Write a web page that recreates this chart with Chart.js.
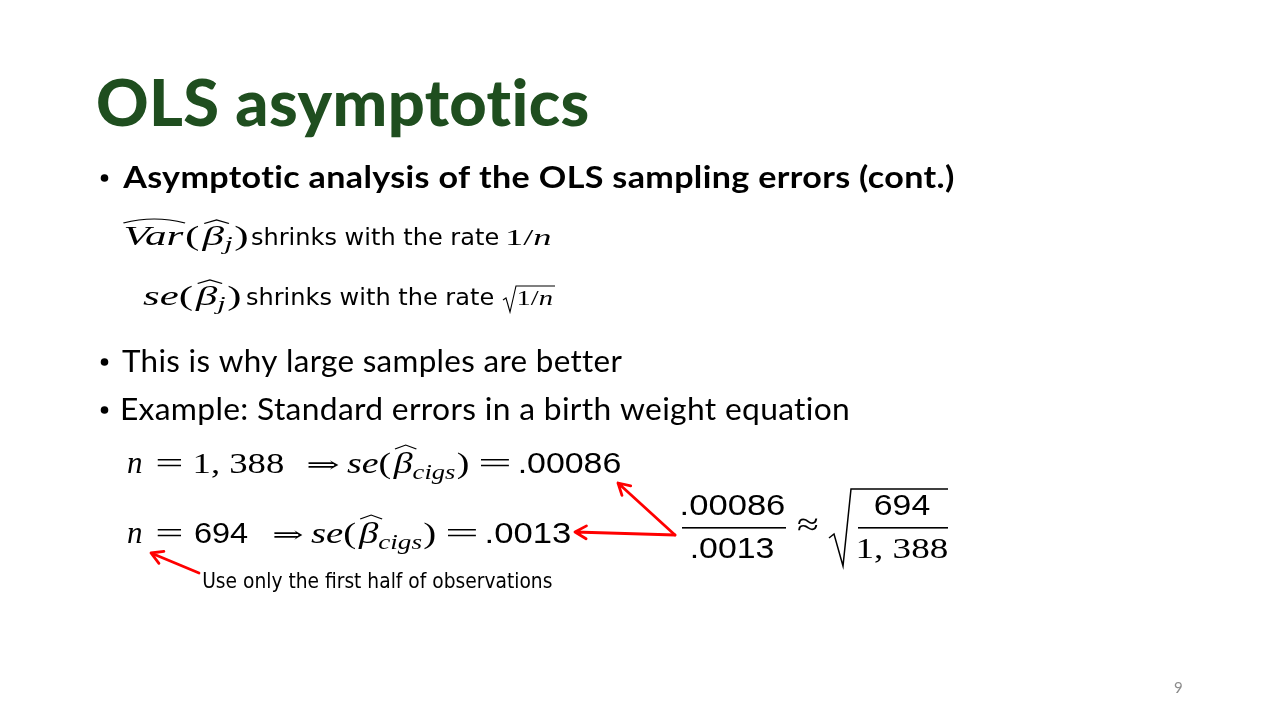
<!DOCTYPE html>
<html>
<head>
<meta charset="utf-8">
<title>OLS asymptotics</title>
<script src="https://cdn.jsdelivr.net/npm/chart.js@4.4.1/dist/chart.umd.min.js"></script>
<style>
  html, body { margin: 0; padding: 0; background: #fff; }
  #wrap { width: 1280px; height: 720px; position: relative; }
</style>
</head>
<body>
<div id="wrap"><canvas id="slide" width="1280" height="720"></canvas></div>
<script>
// ---- slide content ----
var titleText = 'OLS asymptotics';
var bulletTexts = [
  'Asymptotic analysis of the OLS sampling errors (cont.)',
  'This is why large samples are better',
  'Example: Standard errors in a birth weight equation'
];
var rateText = 'shrinks with the rate';
var noteText = 'Use only the first half of observations';
var pageNumber = '9';

// birth weight example: full sample and first half
var sampleSizes = [1388, 694];
var seCigs = [0.00086, 0.0013];
var coefName = 'cigs';

// ---- layout (slide pixels) ----
var titleColor = '#1f4e1f';
var arrowLayout = [
  { from: [675, 535], to: [618, 483] },
  { from: [675, 535], to: [575, 532] },
  { from: [199, 573], to: [151, 553] }
];

function IT(s) { return 'italic ' + s + 'px "Liberation Serif"'; }
function RM(s) { return s + 'px "Liberation Serif"'; }
function SF(s) { return s + 'px "Liberation Sans"'; }

// 1388 -> "1, 388" (tex style), 694 -> "694"
function fmtN(n) {
  var s = String(n);
  if (s.length > 3) s = s.slice(0, s.length - 3) + ', ' + s.slice(s.length - 3);
  return s;
}
// 0.00086 -> ".00086"
function fmtSe(v) {
  return String(v).replace(/^0/, '');
}

// draw a list of runs starting at x on a baseline, stretched to fit width w
function drawSeg(ctx, runs, x, base, w) {
  var total = 0, first = null, last = null;
  runs.forEach(function(r, i) {
    ctx.font = r.f;
    ctx.letterSpacing = r.ls || '0px';
    var m = ctx.measureText(r.t);
    r._w = m.width;
    if (i === 0) first = m.actualBoundingBoxLeft;
    if (i === runs.length - 1) last = m.actualBoundingBoxRight;
    total += (i === runs.length - 1 ? 0 : m.width + (r.gap || 0));
  });
  var vis = first + total + last;
  var k = w ? w / vis : 1;
  ctx.save();
  ctx.translate(x, base);
  ctx.scale(k, 1);
  var cx = first;
  runs.forEach(function(r) {
    ctx.font = r.f;
    ctx.letterSpacing = r.ls || '0px';
    ctx.fillStyle = r.c || '#000';
    ctx.fillText(r.t, cx, r.dy || 0);
    if (r.hat) {
      var h = r.hat;
      ctx.beginPath();
      ctx.lineWidth = h.lw || 1.3;
      ctx.strokeStyle = '#000';
      var x0 = cx + h.l, x1 = cx + r._w + h.r;
      if (h.curve) {
        ctx.moveTo(x0, h.y + h.h);
        ctx.quadraticCurveTo((x0 + x1) / 2, h.y - h.h, x1, h.y + h.h);
      } else {
        ctx.moveTo(x0, h.y + h.h);
        ctx.lineTo((x0 + x1) / 2, h.y);
        ctx.lineTo(x1, h.y + h.h);
      }
      ctx.stroke();
    }
    cx += r._w + (r.gap || 0);
  });
  ctx.letterSpacing = '0px';
  ctx.restore();
}

function line(ctx, pts, lw) {
  ctx.beginPath();
  ctx.lineWidth = lw;
  ctx.strokeStyle = '#000';
  ctx.lineJoin = 'miter';
  ctx.moveTo(pts[0][0], pts[0][1]);
  for (var i = 1; i < pts.length; i++) ctx.lineTo(pts[i][0], pts[i][1]);
  ctx.stroke();
}

function betaRuns(size, sub) {
  return [
    { t: 'β', f: IT(size), hat: { l: 1, r: 3, y: -size * 0.93, h: size * 0.13, lw: 1.1 } },
    { t: sub, f: IT(Math.round(size * 0.7)), dy: size * 0.2, gap: 1 }
  ];
}

function seRuns(size, sub) {
  return [{ t: 'se', f: IT(size) }, { t: '(', f: RM(size), gap: 2 }]
    .concat(betaRuns(size, sub))
    .concat([{ t: ')', f: RM(size) }]);
}

var slideText = {
  id: 'slideText',
  beforeDatasetsDraw: function(chart) {
    var ctx = chart.ctx, xs = chart.scales.x, ys = chart.scales.y;
    var ox = xs.getPixelForValue(0), oy = ys.getPixelForValue(0);
    ctx.save();
    ctx.translate(ox, oy);
    ctx.scale((xs.getPixelForValue(1280) - ox) / 1280, (ys.getPixelForValue(720) - oy) / 720);
    ctx.textBaseline = 'alphabetic';

    // title
    drawSeg(ctx, [{ t: titleText, f: '900 64px Lato', c: titleColor, ls: '0.4px' }], 98, 126, 490);

    // bullets
    var bulletLayout = [
      { base: 188, dot: 178, w: 832, f: 'bold 30px Lato' },
      { base: 372, dot: 362, w: 500, f: '30px Lato' },
      { base: 420, dot: 410, w: 726, f: '30px Lato' }
    ];
    bulletTexts.forEach(function(t, i) {
      var b = bulletLayout[i];
      ctx.fillStyle = '#000';
      ctx.beginPath();
      ctx.arc(104.5, b.dot, 3.8, 0, Math.PI * 2);
      ctx.fill();
      drawSeg(ctx, [{ t: t, f: b.f, ls: '0.3px' }], 122, b.base, b.w);
    });

    // Var line
    drawSeg(ctx, [
      { t: 'Var', f: IT(27), gap: 1, hat: { l: 0, r: 1, y: -26, h: 4, lw: 1.1, curve: true } },
      { t: '(', f: RM(27), gap: 2 }
    ].concat(betaRuns(27, 'j')).concat([{ t: ')', f: RM(27) }]), 125, 245, 122);
    drawSeg(ctx, [{ t: rateText, f: '23px "DejaVu Sans"' }], 252, 245, 246);
    drawSeg(ctx, [{ t: '1/', f: RM(24) }, { t: 'n', f: IT(24) }], 508, 245, 42);

    // se line
    drawSeg(ctx, seRuns(27, 'j'), 143, 305, 97);
    drawSeg(ctx, [{ t: rateText, f: '23px "DejaVu Sans"' }], 247, 305, 246);
    line(ctx, [[503, 300], [506, 298], [510, 312], [516, 286], [555, 286]], 1.1);
    drawSeg(ctx, [{ t: '1/', f: RM(20) }, { t: 'n', f: IT(20) }], 518, 305, 35);

    // example equations
    var eqLayout = [
      { base: 473, n: [195, 88], arr: [308, 31], se: [347, 121], eq: [480, 30], v: [520, 100] },
      { base: 543, n: [195, 53], arr: [274, 29], se: [311, 124], eq: [447, 30], v: [487, 83] }
    ];
    sampleSizes.forEach(function(n, i) {
      var L = eqLayout[i], b = L.base;
      var nFont = fmtN(n).indexOf(',') >= 0 ? RM(30) : SF(29);
      drawSeg(ctx, [{ t: 'n', f: IT(31) }], 128, b, 0);
      drawSeg(ctx, [{ t: '=', f: RM(30) }], 157, b, 25);
      drawSeg(ctx, [{ t: fmtN(n), f: nFont }], L.n[0], b, L.n[1]);
      drawSeg(ctx, [{ t: '⇒', f: '22px "DejaVu Serif"' }], L.arr[0], b - 1, L.arr[1]);
      drawSeg(ctx, seRuns(30, coefName), L.se[0], b, L.se[1]);
      drawSeg(ctx, [{ t: '=', f: RM(30) }], L.eq[0], b, L.eq[1]);
      drawSeg(ctx, [{ t: fmtSe(seCigs[i]), f: SF(29) }], L.v[0], b, L.v[1]);
    });

    drawSeg(ctx, [{ t: noteText, f: '22px "DejaVu Sans"' }], 203, 588, 349);

    // ratio of standard errors vs sqrt of sample size ratio
    drawSeg(ctx, [{ t: fmtSe(seCigs[0]), f: SF(29) }], 682, 515, 102);
    ctx.fillStyle = '#000';
    ctx.fillRect(682, 527, 104, 1.6);
    drawSeg(ctx, [{ t: fmtSe(seCigs[1]), f: SF(29) }], 692, 558, 81);
    drawSeg(ctx, [{ t: '≈', f: RM(32) }], 797, 535, 21);
    line(ctx, [[829, 538], [834, 534], [843, 566], [851, 489], [948, 489]], 1.5);
    drawSeg(ctx, [{ t: fmtN(sampleSizes[1]), f: SF(29) }], 875, 515, 55);
    ctx.fillRect(858, 527, 90, 1.6);
    drawSeg(ctx, [{ t: fmtN(sampleSizes[0]), f: RM(30) }], 858, 558, 89);

    // page number
    ctx.fillStyle = '#8c8c8c';
    ctx.font = '15px Lato';
    ctx.fillText(pageNumber, 1174, 693);

    ctx.restore();
  }
};

function arrowPoints(a) {
  var ang = Math.atan2(a.to[1] - a.from[1], a.to[0] - a.from[0]);
  var L = 13, s = 0.52;
  var tip = { x: a.to[0], y: a.to[1] };
  return [
    { x: a.from[0], y: a.from[1] },
    tip,
    { x: a.to[0] - L * Math.cos(ang - s), y: a.to[1] - L * Math.sin(ang - s) },
    tip,
    { x: a.to[0] - L * Math.cos(ang + s), y: a.to[1] - L * Math.sin(ang + s) }
  ];
}

var arrowSets = arrowLayout.map(function(a) {
  return {
    data: arrowPoints(a),
    borderColor: '#ff0000',
    borderWidth: 2.8,
    borderCapStyle: 'round',
    borderJoinStyle: 'round',
    pointRadius: 0,
    tension: 0,
    fill: false
  };
});

new Chart(document.getElementById('slide'), {
  type: 'line',
  data: { datasets: arrowSets },
  options: {
    responsive: false,
    animation: false,
    layout: { padding: 0 },
    events: [],
    scales: {
      x: { type: 'linear', min: 0, max: 1280, display: false },
      y: { type: 'linear', min: 0, max: 720, reverse: true, display: false }
    },
    plugins: { legend: { display: false }, tooltip: { enabled: false } }
  },
  plugins: [slideText]
});
</script>
</body>
</html>
